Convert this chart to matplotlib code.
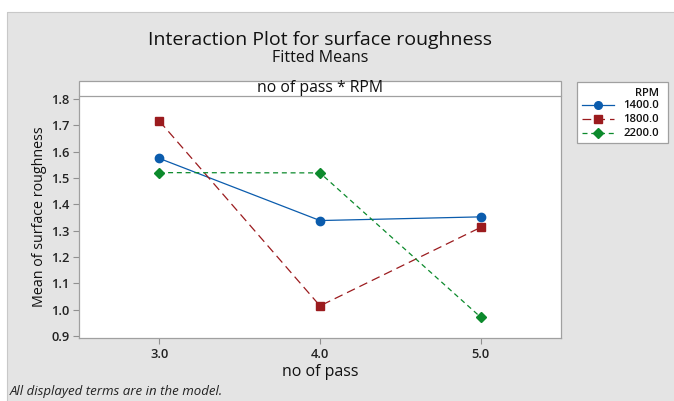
import matplotlib
matplotlib.use("Agg")
import matplotlib.pyplot as plt
from matplotlib.patches import Rectangle
from matplotlib.lines import Line2D

plt.rcParams['font.family'] = ['Open Sans', 'DejaVu Sans']

passes = [3.0, 4.0, 5.0]
rpm_labels = ['1400.0', '1800.0', '2200.0']
rpm_1400 = [1.574, 1.338, 1.352]
rpm_1800 = [1.716, 1.014, 1.312]
rpm_2200 = [1.520, 1.519, 0.971]
y_ticks = [0.9, 1.0, 1.1, 1.2, 1.3, 1.4, 1.5, 1.6, 1.7, 1.8]

W, H = 674, 401
fig = plt.figure(figsize=(W / 100, H / 100), dpi=100)
fig.patch.set_facecolor('#e4e4e4')

# white strip along the top and the left edge, thin border round the gray panel
fig.patches.append(Rectangle((0, 1 - 12 / H), 1, 12 / H, transform=fig.transFigure,
                             facecolor='white', edgecolor='none', zorder=-5))
fig.patches.append(Rectangle((0, 0), 7 / W, 1, transform=fig.transFigure,
                             facecolor='white', edgecolor='none', zorder=-5))
fig.lines.append(Line2D([7 / W, 7 / W, 1], [0, 1 - 12 / H, 1 - 12 / H], transform=fig.transFigure,
                        color='#c8c8c8', linewidth=0.8, zorder=-4))

left, right, top, bottom = 79, 561, 96, 338
ax = fig.add_axes([left / W, 1 - bottom / H, (right - left) / W, (bottom - top) / H])
ax.set_facecolor('white')

styles = [
    (rpm_1400, '#0b5cad', '-', 'o', 6),
    (rpm_1800, '#9b1b1e', (0, (7, 4)), 's', 6),
    (rpm_2200, '#0c8a2c', (0, (4, 3)), 'D', 5.5),
]
for vals, col, ls, mk, ms in styles:
    ax.plot(passes, vals, color=col, linestyle=ls, linewidth=0.9,
            marker=mk, markersize=ms, markerfacecolor=col, markeredgecolor=col)

ax.set_xlim(2.5, 5.5)
ax.set_ylim(0.892, 1.811)
ax.set_xticks(passes)
ax.set_xticklabels(['3.0', '4.0', '5.0'])
ax.set_yticks(y_ticks)
ax.set_yticklabels([f'{v:.1f}' for v in y_ticks])
ax.tick_params(direction='out', length=4, color='#909090', labelsize=9.3,
               labelcolor='#222222', width=0.8, pad=3)
for lab in ax.get_xticklabels() + ax.get_yticklabels():
    lab.set_fontweight('semibold')
for s in ax.spines.values():
    s.set_color('#a0a0a0')
    s.set_linewidth(0.9)
ax.spines['top'].set_visible(False)

ax.set_xlabel('no of pass', fontsize=11.5, color='#111111', labelpad=2)
ax.set_ylabel('Mean of surface roughness', fontsize=10.3, color='#111111', labelpad=3)

# header strip above the plot
hdr = Rectangle((left / W, 1 - top / H), (right - left) / W, 15 / H,
                transform=fig.transFigure, facecolor='white',
                edgecolor='#a0a0a0', linewidth=0.9, zorder=1)
fig.patches.append(hdr)
fig.text((left + right) / 2 / W, 1 - 88.5 / H, 'no of pass * RPM',
         ha='center', va='center', fontsize=11.3, color='#111111')

fig.text((left + right) / 2 / W, 1 - 40 / H, 'Interaction Plot for surface roughness',
         ha='center', va='center', fontsize=14, color='#111111')
fig.text((left + right) / 2 / W, 1 - 58 / H, 'Fitted Means',
         ha='center', va='center', fontsize=11.5, color='#111111')

# legend box
lg = Rectangle((577 / W, 1 - 143 / H), 91 / W, 61 / H, transform=fig.transFigure,
               facecolor='white', edgecolor='#a0a0a0', linewidth=0.9, zorder=1)
fig.patches.append(lg)
fig.text(659 / W, 1 - 93 / H, 'RPM', ha='right', va='center', fontsize=8,
         color='#111111', fontweight='semibold')
for i, ((vals, col, ls, mk, ms), lab) in enumerate(zip(styles, rpm_labels)):
    yy = 1 - (105 + 14 * i) / H
    fig.lines.append(Line2D([582 / W, 614 / W], [yy, yy], transform=fig.transFigure,
                            color=col, linestyle=ls, linewidth=0.9, zorder=2))
    fig.lines.append(Line2D([598 / W], [yy], transform=fig.transFigure, marker=mk,
                            markersize=ms - 0.5, color=col, linestyle='none', zorder=2))
    fig.text(659 / W, yy, lab, ha='right', va='center', fontsize=8.2, color='#111111',
             fontweight='semibold')

fig.text(10 / W, 1 - 392 / H, 'All displayed terms are in the model.', ha='left',
         va='center', fontsize=9.5, style='italic', color='#222222')

fig.savefig('out.png', dpi=100)
